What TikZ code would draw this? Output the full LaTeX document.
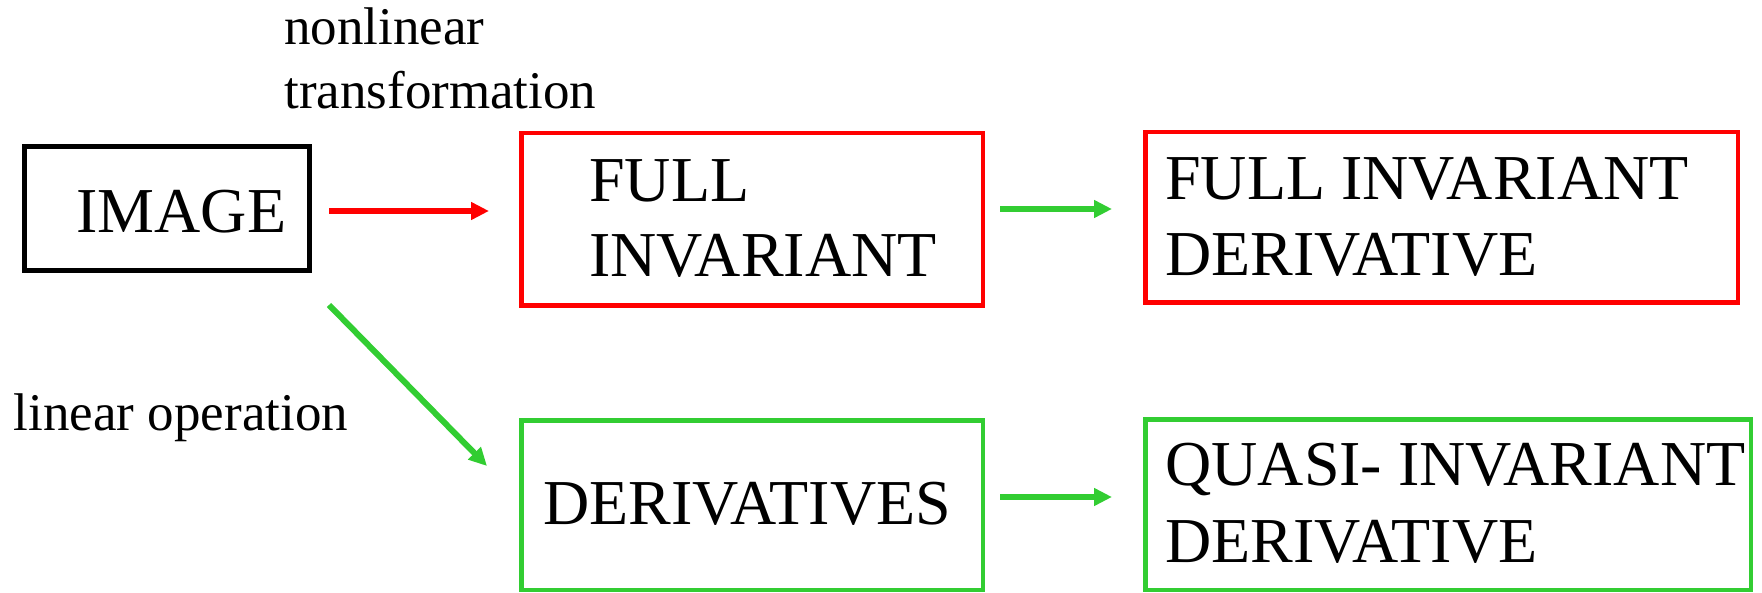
\documentclass[tikz,border=0pt]{standalone}
\usepackage{fontspec}
\setmainfont{Liberation Serif}
\usetikzlibrary{arrows.meta}
\definecolor{flowred}{RGB}{255,0,0}
\definecolor{flowgreen}{RGB}{50,205,50}
\begin{document}
\begin{tikzpicture}[x=0.5pt,y=-0.5pt,
  box/.style={draw,rectangle,inner sep=0pt},
  boxtxt/.style={anchor=base west,inner sep=0pt,font=\fontsize{32}{37.5}\selectfont},
  lbl/.style={anchor=base west,inner sep=0pt,font=\fontsize{26.5}{32}\selectfont},
  conn/.style={line width=3pt,-{Triangle[length=9pt,width=8.5pt]}}]
\useasboundingbox (0,0) rectangle (1762,593);

% boxes
\node[box,line width=2.5pt,minimum width=142.5pt,minimum height=62pt] (img) at (167,208.5) {};
\node[box,draw=flowred,line width=2.25pt,minimum width=230.75pt,minimum height=86.25pt] (fi) at (752,219.5) {};
\node[box,draw=flowred,line width=2.25pt,minimum width=296.25pt,minimum height=85.25pt] (fid) at (1441.5,217.5) {};
\node[box,draw=flowgreen,line width=2.25pt,minimum width=230.75pt,minimum height=84.75pt] (der) at (752,505) {};
\node[box,draw=flowgreen,line width=2.25pt,minimum width=302.75pt,minimum height=85.25pt] (qid) at (1448,504.5) {};

% box texts
\node[boxtxt] (imgtxt) at (76,233) {IMAGE};
\node[boxtxt] (fitxta) at (589,202) {FULL};
\node[boxtxt] (fitxtb) at (589,277) {INVARIANT};
\node[boxtxt] (fidtxta) at (1165,200) {FULL INVARIANT};
\node[boxtxt] (fidtxtb) at (1165,276) {DERIVATIVE};
\node[boxtxt] (dertxt) at (543,524) {DERIVATIVES};
\node[boxtxt] (qidtxta) at (1165,485) {QUASI- INVARIANT};
\node[boxtxt] (qidtxtb) at (1165,562) {DERIVATIVE};

% operation labels
\node[lbl] (nl1) at (284,45) {nonlinear};
\node[lbl] (nl2) at (284,109) {transformation};
\node[lbl] (lin) at (13.5,430) {linear operation};

% connectors
\draw[conn,flowred] ([xshift=8.5pt,yshift=-1.25pt]img.east) -- ([xshift=-15pt,yshift=4.25pt]fi.west);
\draw[conn,flowgreen] ([xshift=7.5pt,yshift=5.25pt]fi.east) -- ([xshift=-15.5pt,yshift=4.25pt]fid.west);
\draw[conn,flowgreen] ([xshift=7.5pt,yshift=4pt]der.east) -- ([xshift=-15.5pt,yshift=3.75pt]qid.west);
\draw[conn,flowgreen] ([xshift=8.5pt,yshift=-16pt]img.south east) -- ([xshift=-16pt,yshift=-24pt]der.north west);
\end{tikzpicture}
\end{document}
